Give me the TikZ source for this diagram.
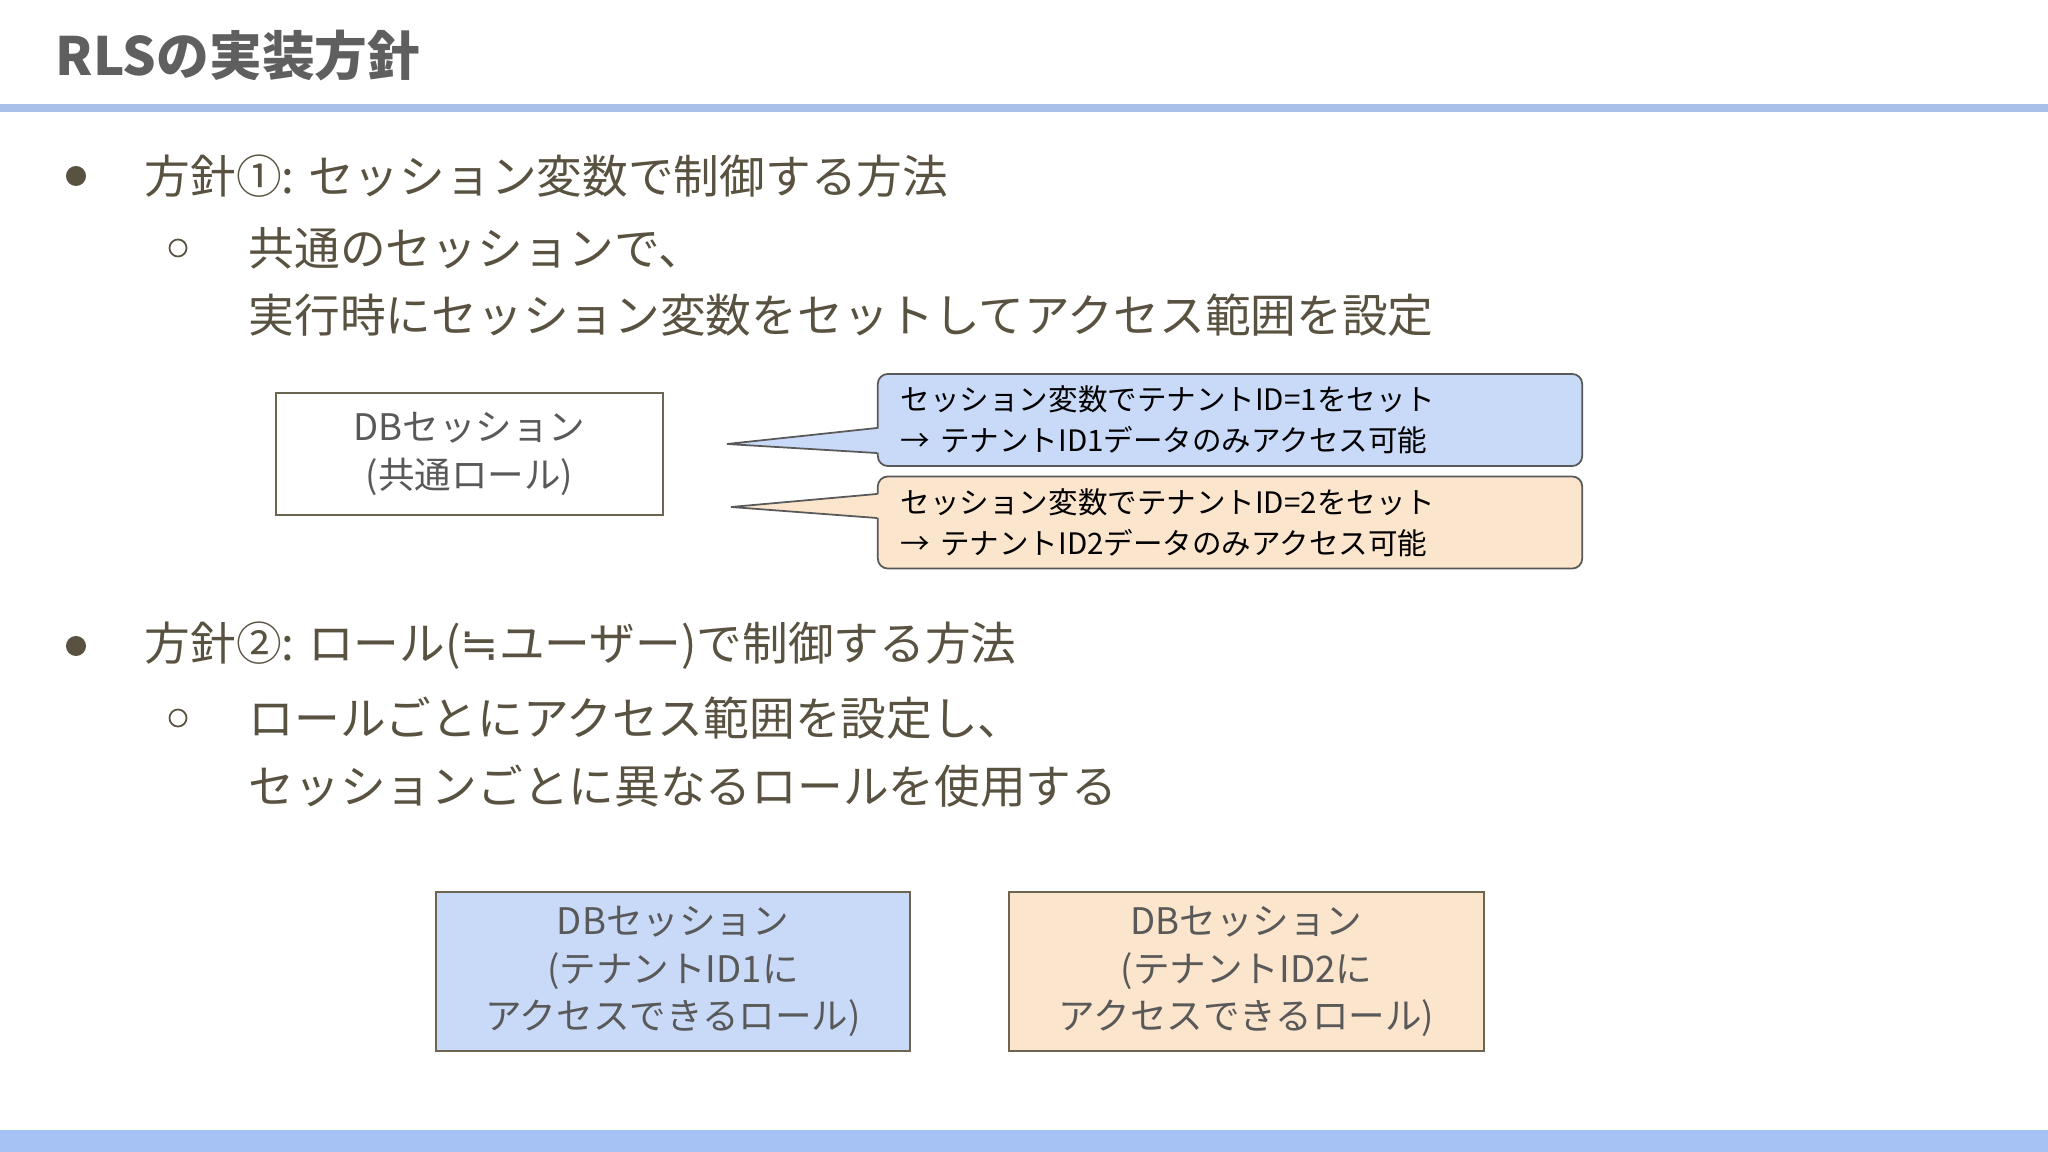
\documentclass[tikz,border=0pt]{standalone}
\usepackage{fontspec}
\setmainfont{Noto Sans CJK JP}
\newfontfamily\symfont{DejaVu Sans}
\usepackage{xcolor}
\usepackage{tikz}
\usetikzlibrary{positioning}
\definecolor{textbrown}{HTML}{595241}
\definecolor{titlegray}{HTML}{5F5F5F}
\definecolor{ruleblue}{HTML}{A9C1E8}
\definecolor{bandblue}{HTML}{A6C1F3}
\definecolor{fillblue}{HTML}{C9DAF8}
\definecolor{fillorange}{HTML}{FCE5CD}
\definecolor{boxline}{HTML}{6B6552}
\definecolor{boxtext}{HTML}{595959}

\begin{document}
\begin{tikzpicture}[x=0.01cm, y=-0.01cm,
  body/.style={anchor=west, inner sep=0pt, text=textbrown, align=left, font=\fontsize{13}{19.3}\selectfont},
  dot/.style={circle, fill=textbrown, inner sep=0pt, minimum size=0.2cm},
  ring/.style={circle, draw=textbrown, line width=0.5pt, inner sep=0pt, minimum size=0.17cm},
  session/.style={draw=boxline, line width=0.6pt, text=boxtext, align=center, inner sep=0pt, font=\fontsize{10.4}{13.4}\selectfont},
  callout/.style={draw=boxtext, line width=0.5pt, rounded corners=0.1cm, text=black, align=left, text width=6.58cm, inner xsep=0.23cm, inner ysep=0pt, minimum height=0.92cm, font=\fontsize{8.4}{11.7}\selectfont}]
\useasboundingbox (0,0) rectangle (2048,1152);
\fill[white] (0,0) rectangle (2048,1152);
% Title and bands
\node[anchor=west, inner sep=0pt, text=titlegray, font=\fontsize{15}{18}\bfseries\selectfont] (title) at (55,56) {RLSの実装方針};
\fill[ruleblue] (0,104) rectangle (2048,112);
\fill[bandblue] (0,1130) rectangle (2048,1152);
% Bullets
\foreach \y in {176,646} {
    \node[dot] (dot\y) at (76,\y) {};
}
\foreach \y in {248,718} {
    \node[ring] (ring\y) at (178,\y) {};
}
\node[body] (plan1) at (144,176) {方針①: セッション変数で制御する方法};
\node[body] (plan1sub) at (248,282) {共通のセッションで、\\実行時にセッション変数をセットしてアクセス範囲を設定};
\node[body] (plan2) at (144,646) {方針②: ロール({\symfont ≒}ユーザー)で制御する方法};
\node[body] (plan2sub) at (248,752) {ロールごとにアクセス範囲を設定し、\\セッションごとに異なるロールを使用する};
% Plan 1: shared session
\node[session, fill=white, minimum width=3.87cm, minimum height=1.22cm] (shared) at (469.5,454) {DBセッション\\(共通ロール)};
\node[callout, fill=fillblue] (call1) at (1230,420) {セッション変数でテナントID=1をセット\\→ テナントID1データのみアクセス可能};
\node[callout, fill=fillorange] (call2) at (1230,522.5) {セッション変数でテナントID=2をセット\\→ テナントID2データのみアクセス可能};
\coordinate (tip1) at (727,444);
\coordinate (tip2) at (731,507);
\fill[fillblue] ([xshift=2pt,yshift=-0.08cm]call1.west) -- (tip1) -- ([xshift=2pt,yshift=-0.33cm]call1.west) -- cycle;
\draw[boxtext, line width=0.5pt] ([yshift=-0.08cm]call1.west) -- (tip1) -- ([yshift=-0.33cm]call1.west);
\fill[fillorange] ([xshift=2pt,yshift=0.285cm]call2.west) -- (tip2) -- ([xshift=2pt,yshift=0.045cm]call2.west) -- cycle;
\draw[boxtext, line width=0.5pt] ([yshift=0.285cm]call2.west) -- (tip2) -- ([yshift=0.045cm]call2.west);
% Plan 2: one session per role
\node[session, fill=fillblue, minimum width=4.74cm, minimum height=1.59cm] (role1) at (673,971.5) {DBセッション\\(テナントID1に\\アクセスできるロール)};
\node[session, fill=fillorange, minimum width=4.74cm, minimum height=1.59cm] (role2) at (1246.5,971.5) {DBセッション\\(テナントID2に\\アクセスできるロール)};
\end{tikzpicture}
\end{document}
